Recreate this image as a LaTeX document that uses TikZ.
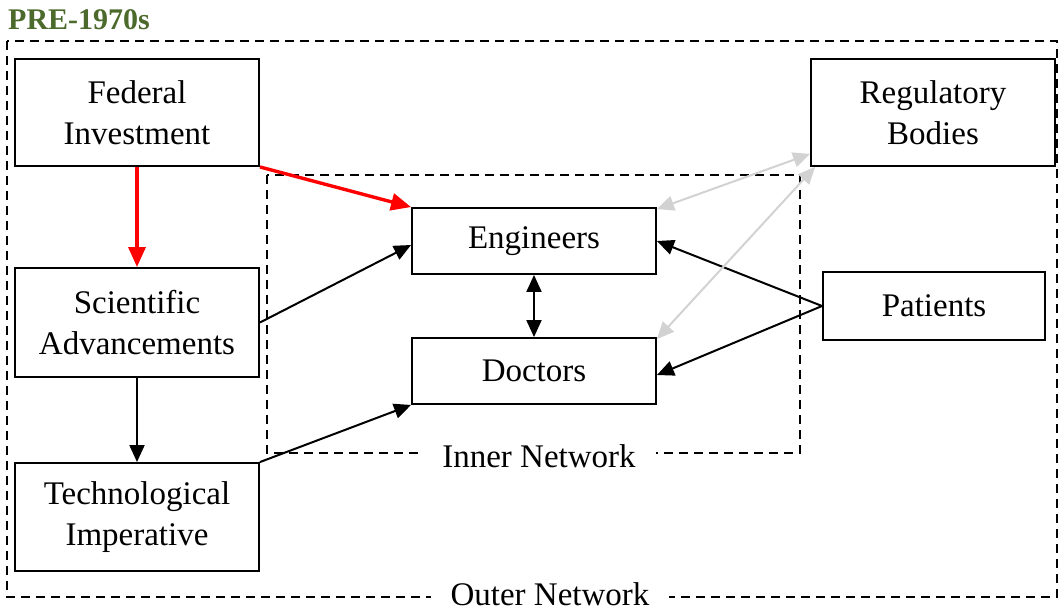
\documentclass[tikz,border=0pt]{standalone}
\usepackage{fontspec}
\setmainfont{Liberation Serif}
\usetikzlibrary{arrows.meta,calc}
\definecolor{titlegreen}{RGB}{76,106,44}
\definecolor{lightgr}{RGB}{210,210,210}
\tikzset{
  box/.style={draw=black, line width=1.9pt, align=center, inner sep=0pt,
    font=\fontsize{33}{41}\selectfont},
  dashbox/.style={draw=black, line width=1.6pt, dash pattern=on 9pt off 6pt},
  netlabel/.style={fill=white, inner xsep=20pt, inner ysep=2pt, font=\fontsize{33}{40}\selectfont},
  redarr/.style={draw=red, line width=3.4pt, -{Triangle[length=20pt,width=17pt]}},
  blkarr/.style={draw=black, line width=2pt, -{Triangle[length=17pt,width=15pt]}},
  blkdbl/.style={draw=black, line width=2pt, {Triangle[length=17pt,width=15pt]}-{Triangle[length=17pt,width=15pt]}},
  grydbl/.style={draw=lightgr, line width=2pt, {Triangle[length=17pt,width=15pt]}-{Triangle[length=17pt,width=15pt]}}
}
\begin{document}
\begin{tikzpicture}[x=1pt,y=-1pt]
\useasboundingbox (0,0) rectangle (1061,611);
% title
\node[anchor=west, text=titlegreen, font=\fontsize{30}{34}\selectfont\bfseries, inner sep=0pt] (title) at (8,20) {PRE-1970s};
% network rectangles
\draw[dashbox] (7,41) rectangle (1057,597);
\draw[dashbox] (267,175) rectangle (800,453);
\node[netlabel] (inner) at (539,456) {Inner Network};
\node[netlabel] (outer) at (550,594) {Outer Network};
% boxes
\node[box, minimum width=244pt, minimum height=107pt] (fed) at (137,112.5) {Federal\\Investment};
\node[box, minimum width=244pt, minimum height=107pt] (reg) at (933,112.5) {Regulatory\\Bodies};
\node[box, minimum width=244pt, minimum height=109pt] (sci) at (137,322.5) {Scientific\\Advancements};
\node[box, minimum width=244pt, minimum height=108pt] (tech) at (137,517) {Technological\\Imperative};
\node[box, minimum width=244pt, minimum height=66pt] (eng) at (534,241) {Engineers};
\node[box, minimum width=244pt, minimum height=66pt] (doc) at (534,371) {Doctors};
\node[box, minimum width=222pt, minimum height=68pt] (pat) at (934,306) {Patients};
% arrows
\draw[redarr] (fed.south) -- (sci.north);
\draw[redarr] (fed.south east) -- (eng.north west);
\draw[blkarr] (sci.east) -- ([yshift=-4pt]eng.west);
\draw[blkarr] (sci.south) -- (tech.north);
\draw[blkarr] (tech.north east) -- (doc.south west);
\draw[blkdbl] (eng.south) -- (doc.north);
\draw[blkarr] (pat.west) -- (eng.east);
\draw[blkarr] (pat.west) -- ([yshift=-4pt]doc.east);
\draw[grydbl] ([yshift=13pt]reg.south west) -- ([yshift=-2pt]eng.north east);
\draw[grydbl] ([xshift=5pt]reg.south west) -- ([yshift=-2pt]doc.north east);
\end{tikzpicture}
\end{document}
